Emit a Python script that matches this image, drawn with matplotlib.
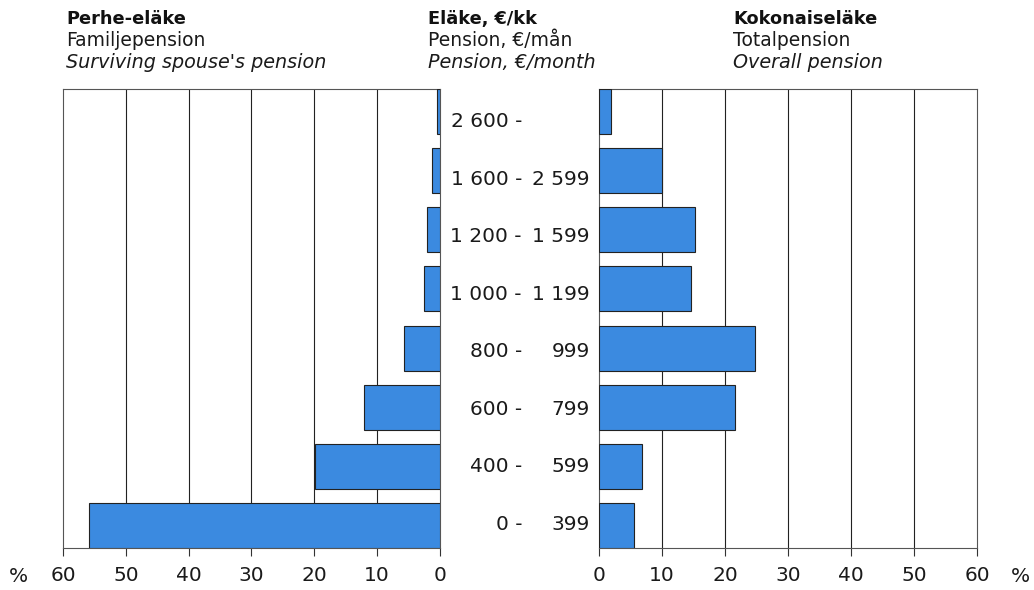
import numpy as np
import matplotlib
matplotlib.use("Agg")
import matplotlib.pyplot as plt

plt.rcParams['font.family'] = ['DejaVu Sans']

# income classes, bottom to top
luokat_vasen = ['0 -', '400 -', '600 -', '800 -', '1 000 -', '1 200 -', '1 600 -', '2 600 -']
luokat_oikea = ['399', '599', '799', '999', '1 199', '1 599', '2 599', '']

# shares, %
perhe = [55.9, 19.9, 12.1, 5.8, 2.5, 2.1, 1.3, 0.4]
kokonais = [5.6, 6.8, 21.6, 24.7, 14.6, 15.2, 10.0, 1.9]

ticks = [0, 10, 20, 30, 40, 50, 60]

vari = '#3b8ae0'
tekstivari = '#1a1a1a'
y = np.arange(len(perhe))

fig = plt.figure(figsize=(10.34, 5.90), dpi=100)
ax1 = fig.add_axes([63/1034, 42/590, 377/1034, 459/590])
ax2 = fig.add_axes([599/1034, 42/590, 378/1034, 459/590])

for ax, data in [(ax1, perhe), (ax2, kokonais)]:
    ax.barh(y, data, height=0.76, color=vari, edgecolor='#222222', linewidth=0.8, zorder=3)
    ax.set_xlim(0, 60)
    ax.set_ylim(-0.38, 7.38)
    ax.set_xticks(ticks)
    ax.set_xticklabels([str(t) for t in ticks], fontsize=14.5, color=tekstivari)
    ax.set_yticks([])
    for t in ticks[1:-1]:
        ax.axvline(t, color='#222222', lw=0.8, zorder=1)
    ax.tick_params(axis='x', direction='out', length=6, width=0.8, pad=7, color='#333333')
    for s in ax.spines.values():
        s.set_color('#555555')
        s.set_linewidth(0.8)

ax1.invert_xaxis()

# class labels between the panels (slightly tighter spacing than the bars)
for i in range(len(y)):
    yb = 1 - (530 - 57.57 * y[i]) / 590
    fig.text(522/1034, yb, luokat_vasen[i], ha='right', va='baseline', fontsize=14.5, color=tekstivari)
    fig.text(590/1034, yb, luokat_oikea[i], ha='right', va='baseline', fontsize=14.5, color=tekstivari)

fig.text(18/1034, 1 - 577/590, '%', ha='center', va='center', fontsize=14.5, color=tekstivari)
fig.text(1020/1034, 1 - 577/590, '%', ha='center', va='center', fontsize=14.5, color=tekstivari)

# headings
otsikot = [
    (66, ['Perhe-eläke', 'Familjepension', "Surviving spouse's pension"]),
    (428, ['Eläke, €/kk', 'Pension, €/mån', 'Pension, €/month']),
    (733, ['Kokonaiseläke', 'Totalpension', 'Overall pension']),
]
for x, rivit in otsikot:
    fig.text(x/1034, 1 - 24/590, rivit[0], ha='left', va='baseline', fontsize=12.8, fontweight='bold', color='#111111')
    fig.text(x/1034, 1 - 46/590, rivit[1], ha='left', va='baseline', fontsize=13.5, color=tekstivari)
    fig.text(x/1034, 1 - 68/590, rivit[2], ha='left', va='baseline', fontsize=13.8, style='italic', color=tekstivari)

fig.savefig('out.png', dpi=100, facecolor='white')
